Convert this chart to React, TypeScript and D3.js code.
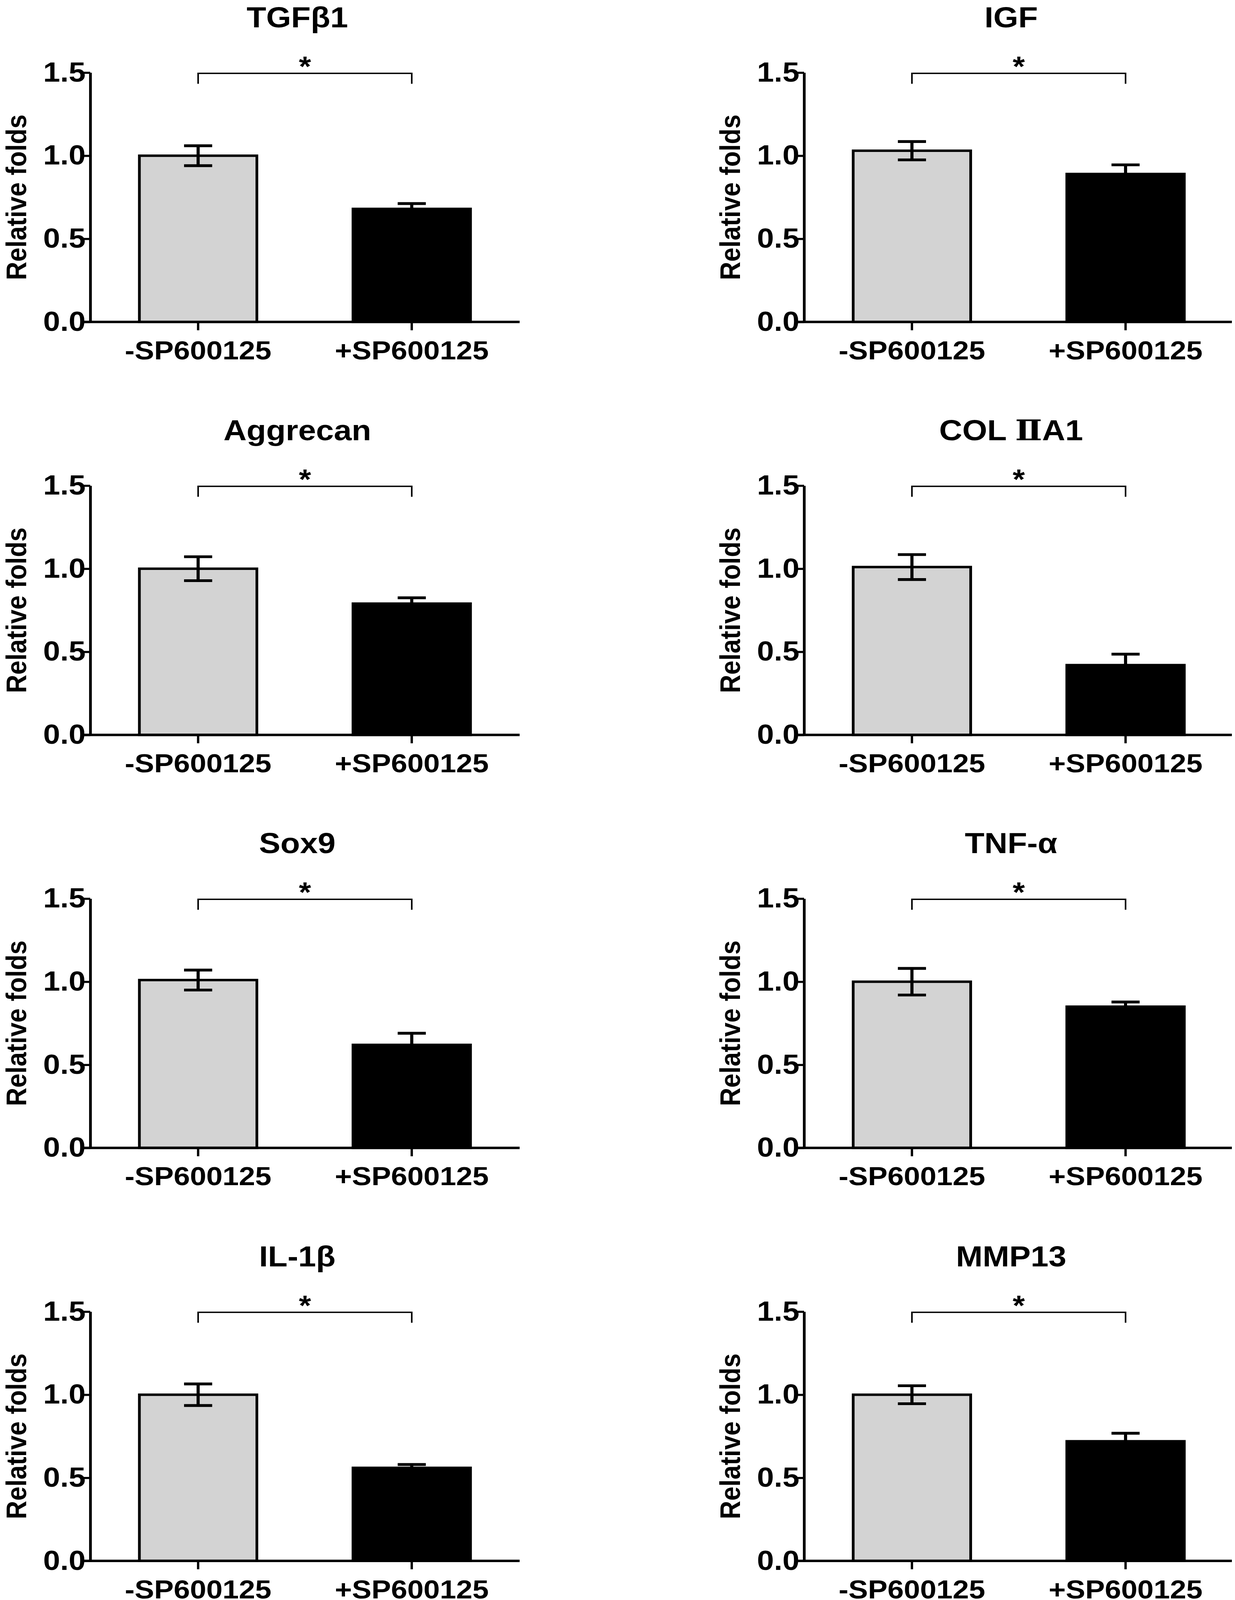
import React, { useRef, useEffect, useState } from 'react';
import * as d3 from 'd3';

// values (relative folds, mean ± SEM)
const genes = ["TGFβ1", "IGF", "Aggrecan", "COL ⅡA1", "Sox9", "TNF-α", "IL-1β", "MMP13"];
const groups = ["-SP600125", "+SP600125"];
const controlMean = [1.0, 1.03, 1.0, 1.01, 1.01, 1.0, 1.0, 1.0];
const controlErr = [0.06, 0.055, 0.072, 0.075, 0.06, 0.08, 0.065, 0.054];
const treatedMean = [0.68, 0.89, 0.79, 0.42, 0.62, 0.85, 0.56, 0.72];
const treatedErr = [0.032, 0.055, 0.035, 0.066, 0.07, 0.028, 0.02, 0.048];
const yTicks = [0, 0.5, 1.0, 1.5];
const groupFill = ["#d3d3d3", "#000000"];

const W = 3161;
const H = 4583;
const colX = [231, 2058];
const rowTop = 208;
const rowStep = 1183;
const plotW = 1099;
const plotH = 714;
const font = "'Liberation Sans', Arial, sans-serif";

const App: React.FC = () => {
  const ref = useRef<SVGSVGElement>(null);
  // the browser viewport can be shorter than the figure, so the drawing is fitted to it
  const [viewH, setViewH] = useState(H);

  useEffect(() => {
    const ih = window.innerHeight;
    if (ih && ih < H) setViewH(ih);
  }, []);

  useEffect(() => {
    if (!ref.current) return;
    const svg = d3.select(ref.current);
    svg.selectAll("*").remove();

    svg.append("rect").attr("width", W).attr("height", H).attr("fill", "#fff");

    const x = d3.scaleBand<string>()
      .domain(groups)
      .range([0, plotW])
      .paddingInner(0.45)
      .paddingOuter(0.23);

    const y = d3.scaleLinear().domain([0, 1.5]).range([plotH, 0]);

    genes.forEach((gene, i) => {
      const col = i % 2;
      const row = Math.floor(i / 2);
      const g = svg.append("g")
        .attr("transform", `translate(${colX[col]},${rowTop + row * rowStep})`);

      const rows = [
        { group: groups[0], mean: controlMean[i], err: controlErr[i], fill: groupFill[0] },
        { group: groups[1], mean: treatedMean[i], err: treatedErr[i], fill: groupFill[1] },
      ];

      // bars
      g.selectAll("rect.bar")
        .data(rows)
        .enter().append("rect")
        .attr("class", "bar")
        .attr("x", d => x(d.group)!)
        .attr("width", x.bandwidth())
        .attr("y", d => y(d.mean))
        .attr("height", d => y(0) - y(d.mean))
        .attr("fill", d => d.fill)
        .attr("stroke", "#000")
        .attr("stroke-width", 7);

      // error bars
      const cap = 36;
      const cx = (d: { group: string }) => x(d.group)! + x.bandwidth() / 2;
      const eb = g.selectAll("g.err").data(rows).enter().append("g").attr("class", "err")
        .attr("stroke", "#000").attr("stroke-width", 8);
      eb.append("line")
        .attr("x1", cx).attr("x2", cx)
        .attr("y1", d => y(d.mean - d.err))
        .attr("y2", d => y(d.mean + d.err));
      eb.append("line")
        .attr("x1", d => cx(d) - cap).attr("x2", d => cx(d) + cap)
        .attr("y1", d => y(d.mean + d.err))
        .attr("y2", d => y(d.mean + d.err));
      eb.append("line")
        .attr("x1", d => cx(d) - cap).attr("x2", d => cx(d) + cap)
        .attr("y1", d => y(d.mean - d.err))
        .attr("y2", d => y(d.mean - d.err));

      // y axis
      const ya = g.append("g")
        .call(d3.axisLeft(y).tickValues(yTicks).tickFormat(d3.format(".1f")).tickSize(16).tickSizeOuter(0));
      ya.select(".domain").attr("stroke", "#000").attr("stroke-width", 7);
      ya.selectAll(".tick line").attr("stroke", "#000").attr("stroke-width", 6);
      ya.selectAll(".tick text")
        .attr("x", -12)
        .attr("fill", "#000")
        .style("font-family", font)
        .style("font-weight", "bold")
        .style("font-size", "78px");

      // x axis
      const xa = g.append("g")
        .attr("transform", `translate(0,${plotH})`)
        .call(d3.axisBottom(x).tickSize(24).tickSizeOuter(0));
      xa.select(".domain").remove();
      xa.selectAll(".tick line").attr("stroke", "#000").attr("stroke-width", 6);
      xa.selectAll(".tick text")
        .attr("y", 107)
        .attr("dy", null)
        .attr("fill", "#000")
        .style("font-family", font)
        .style("font-weight", "bold")
        .style("font-size", "75px");
      g.append("line")
        .attr("x1", -16).attr("x2", plotW)
        .attr("y1", plotH).attr("y2", plotH)
        .attr("stroke", "#000").attr("stroke-width", 7);

      // y label
      g.append("text")
        .attr("transform", `translate(${67 - colX[0]},${plotH / 2}) rotate(-90)`)
        .attr("text-anchor", "middle")
        .style("font-family", font)
        .style("font-weight", "bold")
        .style("font-size", "73px")
        .text("Relative folds");

      // title (the roman numeral comes from DejaVu, which draws its serif bars)
      const title = g.append("text")
        .attr("x", 530)
        .attr("y", -130)
        .attr("text-anchor", "middle")
        .style("font-family", font)
        .style("font-weight", "bold")
        .style("font-size", "82px");
      gene.split(/(Ⅱ)/).filter(s => s.length).forEach(part => {
        const t = title.append("tspan").text(part);
        if (part === "Ⅱ") t.style("font-family", "'DejaVu Serif', 'DejaVu Sans', serif");
      });

      // significance bracket
      const c0 = x(groups[0])! + x.bandwidth() / 2;
      const c1 = x(groups[1])! + x.bandwidth() / 2;
      const by = y(1.5) + 2;
      g.append("path")
        .attr("d", `M${c0},${by + 30}V${by}H${c1}V${by + 30}`)
        .attr("fill", "none")
        .attr("stroke", "#000")
        .attr("stroke-width", 4);
      g.append("text")
        .attr("x", (c0 + c1) / 2)
        .attr("y", by + 8)
        .attr("text-anchor", "middle")
        .style("font-family", font)
        .style("font-weight", "bold")
        .style("font-size", "80px")
        .text("*");
    });
  }, []);

  return (
    <svg ref={ref} width={W} height={viewH} viewBox={`0 0 ${W} ${H}`} preserveAspectRatio="none"
      style={{ display: 'block', margin: '-8px 0 0 -8px' }} />
  );
};

export default App;
